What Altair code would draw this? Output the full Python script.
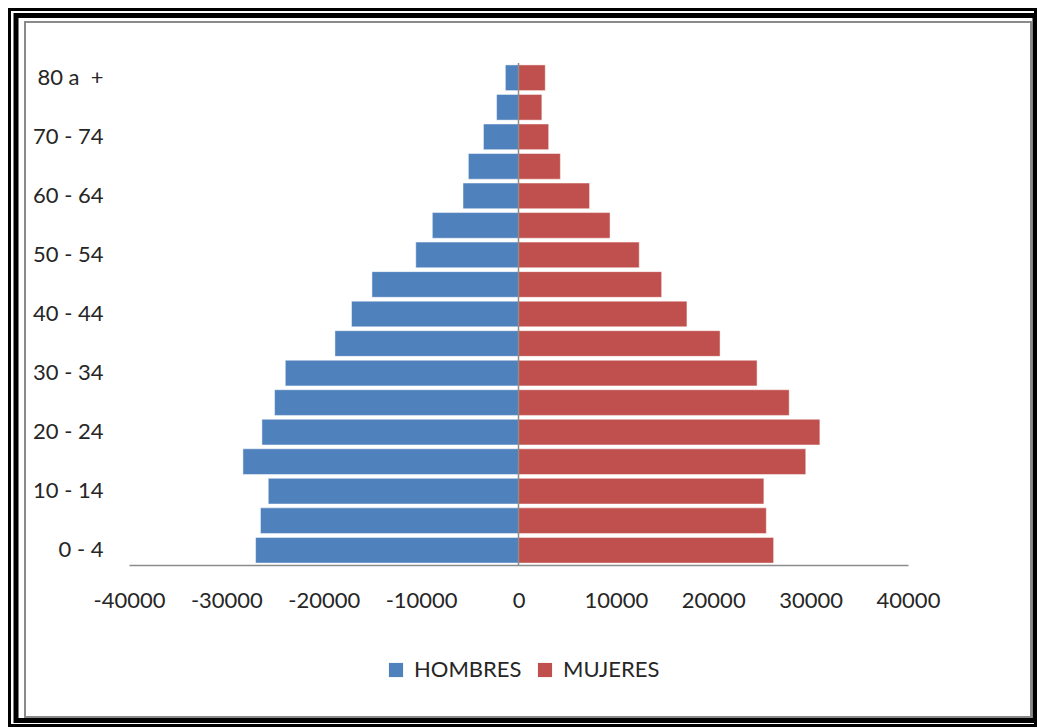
import altair as alt
import pandas as pd

# Population by five-year age group (youngest first)
age_groups = [
    "0 - 4", "5 - 9", "10 - 14", "15 - 19", "20 - 24", "25 - 29", "30 - 34",
    "35 - 39", "40 - 44", "45 - 49", "50 - 54", "55 - 59", "60 - 64",
    "65 - 69", "70 - 74", "75 - 79", "80 a  +",
]
hombres = [27000, 26500, 25700, 28300, 26350, 25050, 23950, 18850, 17150,
           15050, 10550, 8850, 5700, 5150, 3600, 2250, 1350]
mujeres = [26200, 25450, 25200, 29500, 30950, 27800, 24500, 20700, 17300,
           14700, 12400, 9400, 7300, 4300, 3100, 2400, 2750]

series = ["HOMBRES", "MUJERES"]
series_colors = ["#4F81BD", "#C0504D"]
x_ticks = [-40000, -30000, -20000, -10000, 0, 10000, 20000, 30000, 40000]
y_labels = age_groups[::2]

rows = []
for g, h, m in zip(age_groups, hombres, mujeres):
    rows.append({"edad": g, "sexo": "HOMBRES", "valor": -h})
    rows.append({"edad": g, "sexo": "MUJERES", "valor": m})
df = pd.DataFrame(rows)

FONT = "Lato"
TXT = "#262626"

bars = alt.Chart(df).mark_bar(
    stroke="#ffffff", strokeWidth=0.8, strokeOpacity=0.6
).encode(
    x=alt.X(
        "valor:Q",
        stack=None,
        scale=alt.Scale(domain=[x_ticks[0], x_ticks[-1]], nice=False),
        axis=alt.Axis(
            values=x_ticks, title=None, grid=False, ticks=False,
            domainColor="#8c8c8c", domainWidth=1.5,
            labelFont=FONT, labelFontSize=22, labelColor=TXT,
            labelPadding=25, labelExpr="datum.value + ''",
            labelOverlap=False, labelFlush=False, labelBound=False,
        ),
    ),
    y=alt.Y(
        "edad:N",
        sort=age_groups[::-1],
        scale=alt.Scale(paddingInner=0.13, paddingOuter=0.065),
        axis=alt.Axis(
            values=y_labels, title=None, ticks=False, domain=False,
            labelFont=FONT, labelFontSize=22, labelColor=TXT,
            labelPadding=26, labelAlign="right", labelOverlap=False,
            labelExpr="replace(datum.label, '  ', ' \u00a0')",
        ),
    ),
    color=alt.Color(
        "sexo:N",
        scale=alt.Scale(domain=series, range=series_colors),
        legend=alt.Legend(
            title=None, orient="none", direction="horizontal",
            legendX=256, legendY=596,
            symbolType="square", symbolSize=200, symbolStrokeWidth=0,
            labelFont=FONT, labelFontSize=22, labelColor=TXT,
            labelOffset=7, columnPadding=12,
        ),
    ),
)

# vertical axis line at zero
zero_rule = alt.Chart(pd.DataFrame({"v": [0]})).mark_rule(
    color="#8c8c8c", strokeWidth=1.5
).encode(x="v:Q")

# page border: outer double black frame and inner chart-area outline
one = pd.DataFrame({"k": [0]})
L, T = 129, 63


def frame(x0, y0, x1, y1, color, width):
    return alt.Chart(one).mark_rect(
        fillOpacity=0, stroke=color, strokeWidth=width
    ).encode(
        x=alt.value(x0 - L), x2=alt.value(x1 - L),
        y=alt.value(y0 - T), y2=alt.value(y1 - T),
    )


chart = alt.layer(
    frame(9.5, 9.5, 1035.5, 725.5, "#000000", 3),
    frame(16, 15.5, 1035, 720.5, "#000000", 5),
    frame(25, 22, 1031, 717, "#8a8a8a", 2),
    bars,
    zero_rule,
).properties(
    width=779, height=502,
    autosize=alt.AutoSizeParams(type="none"),
    padding={"left": 129, "top": 63, "right": 129, "bottom": 163},
    background="#ffffff",
).configure_view(stroke=None)

chart.save("out.html", embed_options={"renderer": "svg", "actions": False})
